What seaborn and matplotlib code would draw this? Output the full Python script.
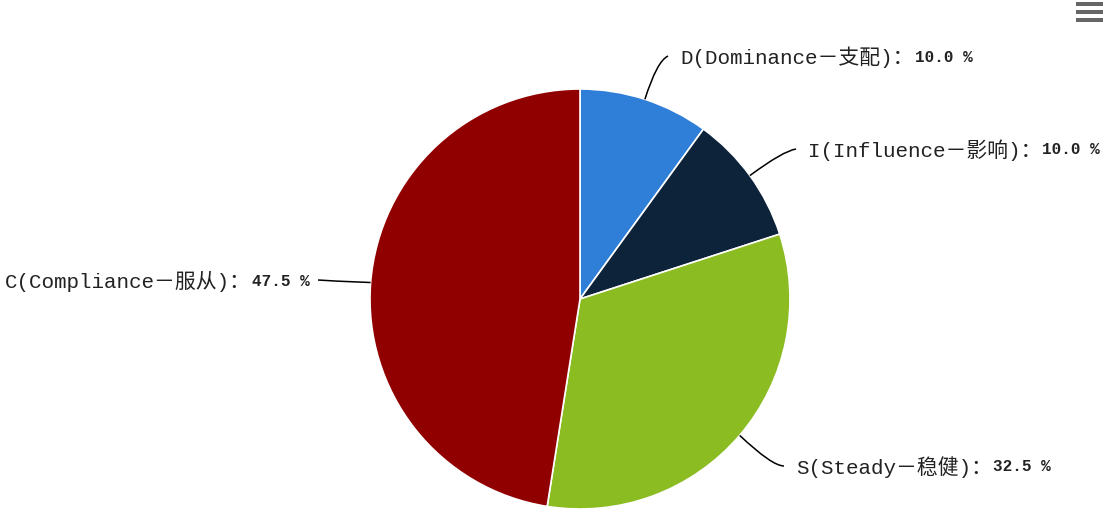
import matplotlib
matplotlib.use("Agg")
import matplotlib.pyplot as plt
from matplotlib.path import Path
from matplotlib.patches import PathPatch, Rectangle
import numpy as np
import pandas as pd
import seaborn as sns

# 数据
categories = ["D(Dominance－支配)", "I(Influence－影响)", "S(Steady－稳健)", "C(Compliance－服从)"]
shares = [10.0, 10.0, 32.5, 47.5]
colors = ["#2f7ed8", "#0d233a", "#8bbc21", "#910000"]

# 标签位置 (像素, 以左上为原点): 文本锚点 x, y, 对齐方式
label_pos = [(680, 57, "left"), (808, 150, "left"), (796, 467, "left"), (310, 281, "right")]
# 连接线拐点
label_bend = [(657, 62), (783, 152), (772, 467), (330, 282)]

sns.set_theme(style="white")
plt.rcParams['font.family'] = ['Liberation Mono', 'Noto Sans CJK SC', 'DejaVu Sans']

df = pd.DataFrame({"类型": categories, "占比": shares, "颜色": colors})

W, H = 1104, 510
fig = plt.figure(figsize=(W / 100, H / 100), dpi=100)
ax = fig.add_axes([0, 0, 1, 1])


def py(y):
    return H - y


wedges, _ = ax.pie(
    df["占比"], colors=df["颜色"], startangle=90, counterclock=False,
    center=(580, py(300)), radius=210,
    wedgeprops=dict(edgecolor="white", linewidth=1.2),
)
ax.set_xlim(0, W)
ax.set_ylim(0, H)
ax.set_aspect("equal")
ax.axis("off")

fig.canvas.draw()
renderer = fig.canvas.get_renderer()

for w, cat, val, (tx, ty, ha), (bx, by) in zip(wedges, df["类型"], df["占比"], label_pos, label_bend):
    mid = np.deg2rad((w.theta1 + w.theta2) / 2)
    sx = w.center[0] + w.r * np.cos(mid)
    sy = w.center[1] + w.r * np.sin(mid)
    ex = tx - 12 if ha == "left" else tx + 8
    path = Path([(sx, sy), (bx, py(by)), (ex, py(ty))], [Path.MOVETO, Path.CURVE3, Path.CURVE3])
    ax.add_patch(PathPatch(path, fill=False, edgecolor="black", linewidth=1.1))

    pct = f"{val:.1f} %"
    if ha == "left":
        t1 = ax.text(tx, py(ty), cat + "：", ha="left", va="center", fontsize=15, color="#222222")
        bb = t1.get_window_extent(renderer)
        ax.text(bb.x1 + 1, py(ty), pct, ha="left", va="center", fontsize=11.5,
                fontweight="bold", color="#222222")
    else:
        t2 = ax.text(tx, py(ty), pct, ha="right", va="center", fontsize=11.5,
                     fontweight="bold", color="#222222")
        bb = t2.get_window_extent(renderer)
        ax.text(bb.x0 - 1, py(ty), cat + "：", ha="right", va="center", fontsize=15, color="#222222")

# 右上角菜单图标
for y0 in (3, 11, 19):
    ax.add_patch(Rectangle((1076, py(y0 + 4)), 27, 4, facecolor="#666666", edgecolor="none"))

plt.savefig("out.png", dpi=100)
plt.close()
